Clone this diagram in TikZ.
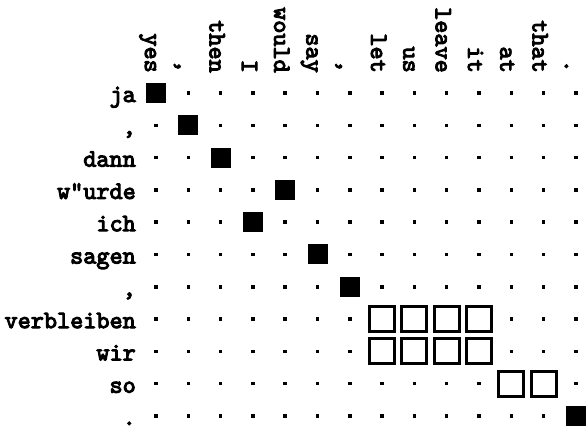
\documentclass[tikz,border=0pt]{standalone}
\usepackage{fontspec}
\newfontfamily\labfont{lmmono10-regular.otf}[FakeBold=4]
\begin{document}
\begin{tikzpicture}[x=1pt,y=-1pt,
  lab/.style={font=\labfont\fontsize{25}{25}\selectfont, inner sep=0pt},
  dotcell/.style={fill=black, minimum size=3.5pt, inner sep=0pt},
  hitcell/.style={fill=black, minimum size=20pt, inner sep=0pt},
  softcell/.style={draw=black, fill=white, line width=3pt, minimum size=25pt, inner sep=0pt}]
\useasboundingbox (0,0) rectangle (587,427);
% column labels
\foreach \t [count=\i] in {yes,{,},then,I,would,say,{,},let,us,leave,it,at,that,.}
  \node[lab, rotate=-90, anchor=base east] (c\i) at ({156+32.3*(\i-1)-11}, 73) {\t};
% row labels
\foreach \t [count=\j] in {ja,{,},dann,w"urde,ich,sagen,{,},verbleiben,wir,so,.}
  \node[lab, anchor=base east] (r\j) at (136, {93+32.3*(\j-1)+9}) {\t};
% dots
\foreach \j in {1,...,11}
  \foreach \i in {1,...,14}
    \node[dotcell] (d-\j-\i) at ({156+32.3*(\i-1)}, {93+32.3*(\j-1)}) {};
% sure alignments
\foreach \j/\i in {1/1,2/2,3/3,4/5,5/4,6/6,7/7,11/14}
  \node[hitcell] (s-\j-\i) at (d-\j-\i) {};
% possible alignments
\foreach \j/\i in {8/8,8/9,8/10,8/11,9/8,9/9,9/10,9/11,10/12,10/13}
  \node[softcell] (p-\j-\i) at (d-\j-\i) {};
\end{tikzpicture}
\end{document}
